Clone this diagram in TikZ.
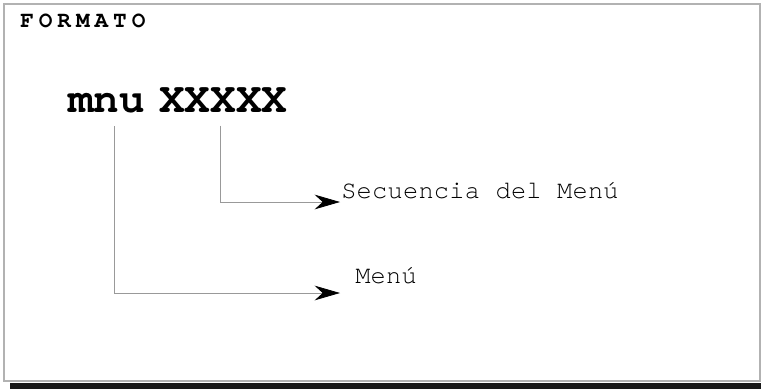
\documentclass[tikz,border=0pt]{standalone}
\usepackage{fontspec}
\setmonofont{TeX Gyre Cursor}
\usetikzlibrary{arrows.meta}

\begin{document}
\begin{tikzpicture}[x=0.75pt, y=-0.75pt,
    lbl/.style={anchor=base west, inner sep=0pt, font=\ttfamily\fontsize{19}{21}\selectfont\addfontfeature{LetterSpace=1}},
    big/.style={anchor=base west, inner sep=0pt, font=\ttfamily\bfseries\fontsize{32}{34}\selectfont},
    conn/.style={draw=gray!80, line width=0.6pt, -{Stealth[length=19pt, width=11pt, inset=6pt, black]}}]
    \useasboundingbox (0,0) rectangle (761,389);
    \draw[gray!60, line width=0.8pt] (4,4) rectangle (760,381);
    \fill[black!90] (10,383) rectangle (761,389);

    \node[lbl, font=\ttfamily\bfseries\fontsize{17}{19}\selectfont\addfontfeature{LetterSpace=22}] (fmt) at (20,27) {FORMATO};
    \node[big] (mnu) at (68,112) {mnu};
    \node[big] (code) at (159,112) {XXXXX};

    \node[lbl] (sec) at (341,198) {Secuencia del Menú};
    \node[lbl] (menu) at (355,283) {Menú};

    \coordinate (secend) at (340,202);
    \coordinate (menuend) at (340,293);

    \draw[conn] ([xshift=6pt,yshift=-10pt]mnu.south) |- (menuend);
    \draw[conn] ([xshift=-2pt,yshift=-10pt]code.south) |- (secend);
\end{tikzpicture}
\end{document}
